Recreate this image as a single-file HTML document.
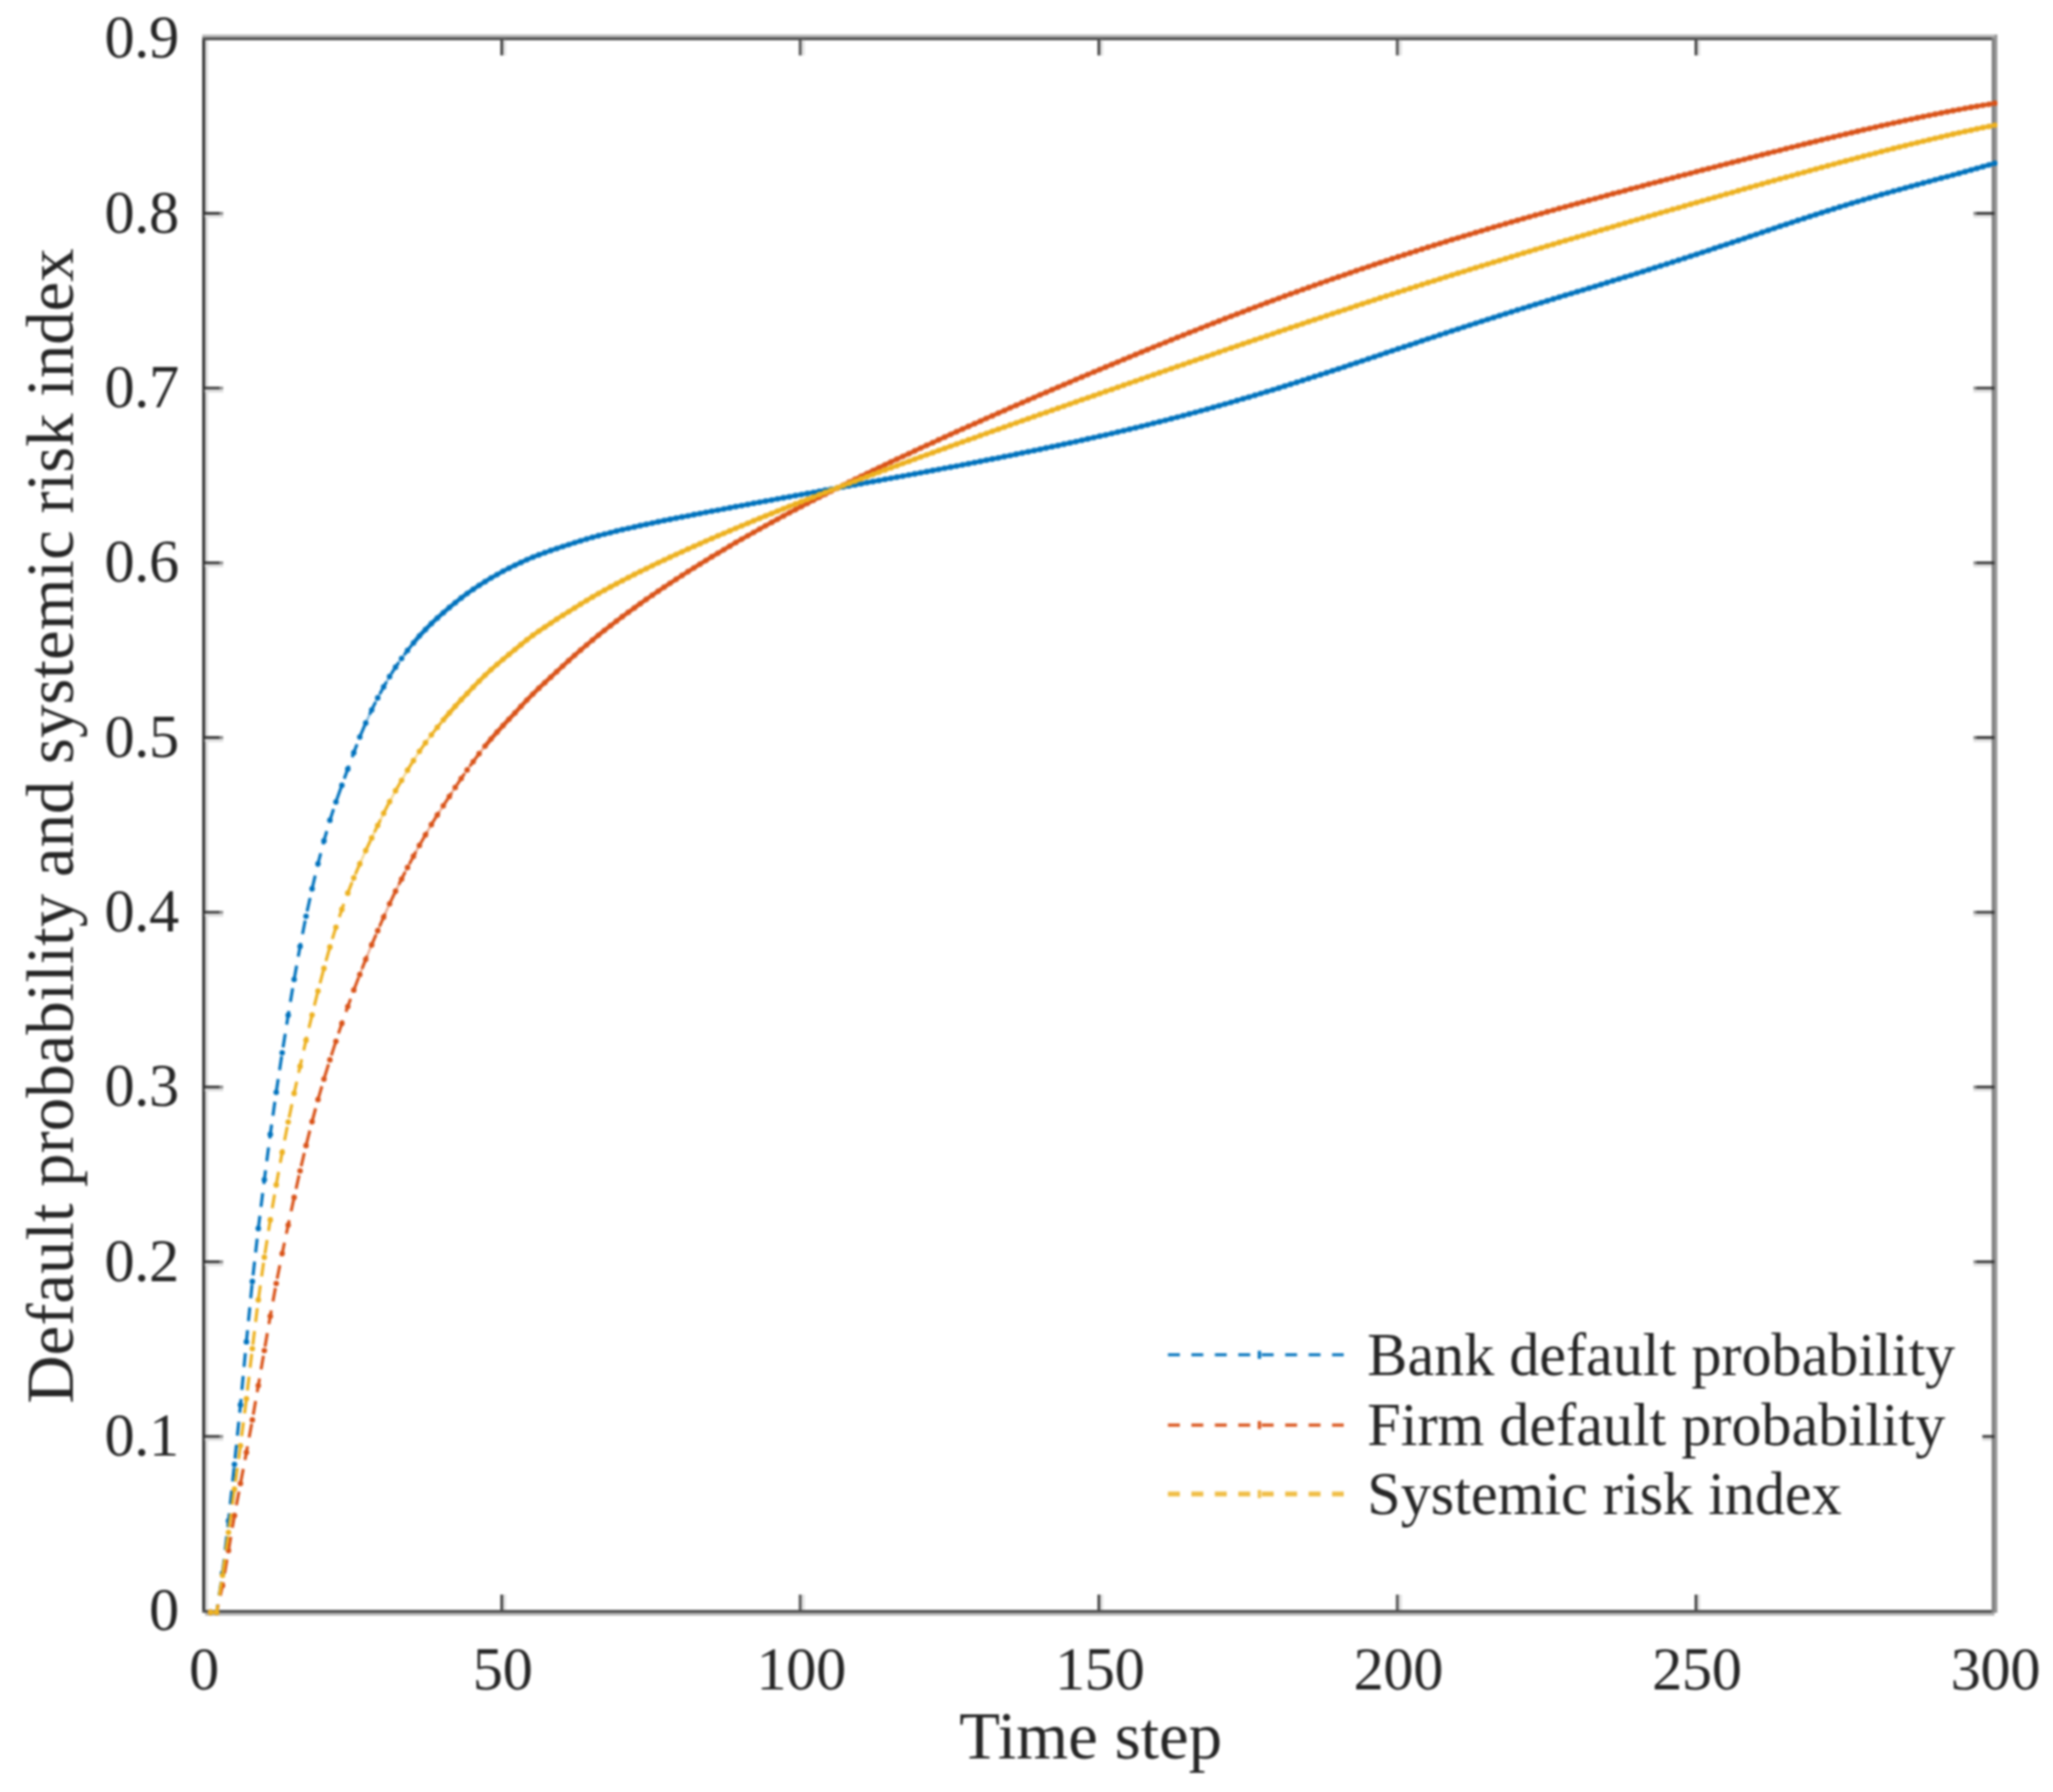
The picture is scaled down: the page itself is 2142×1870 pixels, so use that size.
<!DOCTYPE html>
<html lang="en">
<head>
<meta charset="utf-8">
<title>Default probability and systemic risk index</title>
<style>
html,body{margin:0;padding:0;background:#fff;}
body{width:2142px;height:1870px;overflow:hidden;}
svg{display:block;filter:blur(0.9px);}
text{font-family:"Liberation Serif","Times New Roman",Times,serif;fill:#262626;stroke:none;}
.tk{font-size:63px;letter-spacing:-0.4px;}
.lb{font-size:69.7px;}
.lg{font-size:62.75px;}
</style>
</head>
<body>
<svg width="2142" height="1870" viewBox="0 0 2142 1870">
<rect x="0" y="0" width="2142" height="1870" fill="#ffffff"/>

<g id="axes" shape-rendering="crispEdges">
<rect x="210.5" y="38.7" width="3.1" height="1644.1" fill="#333333"/>
<rect x="213.6" y="41.8" width="3.2" height="1638.2" fill="#dadada"/>
<rect x="210.5" y="35.6" width="1873.4" height="3.1" fill="#b9b9b9"/>
<rect x="210.5" y="38.7" width="1870.5" height="3.1" fill="#4f4f4f"/>
<rect x="210.5" y="1680" width="1870.5" height="2.9" fill="#4f4f4f"/>
<rect x="213.6" y="1682.9" width="1867.4" height="2.9" fill="#b6b6b6"/>
<rect x="2078" y="38.7" width="3" height="1644.2" fill="#808080"/>
<rect x="2081" y="35.6" width="2.9" height="1647.3" fill="#999999"/>
</g>
<g id="ticks">
<rect x="213.6" y="1497.6" width="16" height="2.9" fill="#333333"/>
<rect x="229.6" y="1497.6" width="3.2" height="2.9" fill="#808080"/>
<rect x="213.6" y="1500.5" width="19.2" height="3" fill="#dcdcdc"/>
<rect x="2062" y="1497.6" width="19" height="2.9" fill="#333333"/>
<rect x="2059" y="1497.6" width="3" height="2.9" fill="#808080"/>
<rect x="2059" y="1500.5" width="19" height="3" fill="#dcdcdc"/>
<rect x="213.6" y="1315.3" width="16" height="2.9" fill="#333333"/>
<rect x="229.6" y="1315.3" width="3.2" height="2.9" fill="#808080"/>
<rect x="213.6" y="1318.2" width="19.2" height="3" fill="#dcdcdc"/>
<rect x="2062" y="1315.3" width="19" height="2.9" fill="#333333"/>
<rect x="2059" y="1315.3" width="3" height="2.9" fill="#808080"/>
<rect x="2059" y="1318.2" width="19" height="3" fill="#dcdcdc"/>
<rect x="213.6" y="1132.9" width="16" height="2.9" fill="#333333"/>
<rect x="229.6" y="1132.9" width="3.2" height="2.9" fill="#808080"/>
<rect x="213.6" y="1135.8" width="19.2" height="3" fill="#dcdcdc"/>
<rect x="2062" y="1132.9" width="19" height="2.9" fill="#333333"/>
<rect x="2059" y="1132.9" width="3" height="2.9" fill="#808080"/>
<rect x="2059" y="1135.8" width="19" height="3" fill="#dcdcdc"/>
<rect x="213.6" y="950.6" width="16" height="2.9" fill="#333333"/>
<rect x="229.6" y="950.6" width="3.2" height="2.9" fill="#808080"/>
<rect x="213.6" y="953.5" width="19.2" height="3" fill="#dcdcdc"/>
<rect x="2062" y="950.6" width="19" height="2.9" fill="#333333"/>
<rect x="2059" y="950.6" width="3" height="2.9" fill="#808080"/>
<rect x="2059" y="953.5" width="19" height="3" fill="#dcdcdc"/>
<rect x="213.6" y="768.2" width="16" height="2.9" fill="#333333"/>
<rect x="229.6" y="768.2" width="3.2" height="2.9" fill="#808080"/>
<rect x="213.6" y="771.2" width="19.2" height="3" fill="#dcdcdc"/>
<rect x="2062" y="768.2" width="19" height="2.9" fill="#333333"/>
<rect x="2059" y="768.2" width="3" height="2.9" fill="#808080"/>
<rect x="2059" y="771.2" width="19" height="3" fill="#dcdcdc"/>
<rect x="213.6" y="585.9" width="16" height="2.9" fill="#333333"/>
<rect x="229.6" y="585.9" width="3.2" height="2.9" fill="#808080"/>
<rect x="213.6" y="588.8" width="19.2" height="3" fill="#dcdcdc"/>
<rect x="2062" y="585.9" width="19" height="2.9" fill="#333333"/>
<rect x="2059" y="585.9" width="3" height="2.9" fill="#808080"/>
<rect x="2059" y="588.8" width="19" height="3" fill="#dcdcdc"/>
<rect x="213.6" y="403.6" width="16" height="2.9" fill="#333333"/>
<rect x="229.6" y="403.6" width="3.2" height="2.9" fill="#808080"/>
<rect x="213.6" y="406.5" width="19.2" height="3" fill="#dcdcdc"/>
<rect x="2062" y="403.6" width="19" height="2.9" fill="#333333"/>
<rect x="2059" y="403.6" width="3" height="2.9" fill="#808080"/>
<rect x="2059" y="406.5" width="19" height="3" fill="#dcdcdc"/>
<rect x="213.6" y="221.2" width="16" height="2.9" fill="#333333"/>
<rect x="229.6" y="221.2" width="3.2" height="2.9" fill="#808080"/>
<rect x="213.6" y="224.1" width="19.2" height="3" fill="#dcdcdc"/>
<rect x="2062" y="221.2" width="19" height="2.9" fill="#333333"/>
<rect x="2059" y="221.2" width="3" height="2.9" fill="#808080"/>
<rect x="2059" y="224.1" width="19" height="3" fill="#dcdcdc"/>
<rect x="522.0" y="1664" width="3" height="16" fill="#4a4a4a"/>
<rect x="525.0" y="1664" width="3" height="16" fill="#e0e0e0"/>
<rect x="522.0" y="41.8" width="3" height="16" fill="#4a4a4a"/>
<rect x="525.0" y="41.8" width="3" height="16" fill="#e0e0e0"/>
<rect x="833.5" y="1664" width="3" height="16" fill="#4a4a4a"/>
<rect x="836.5" y="1664" width="3" height="16" fill="#e0e0e0"/>
<rect x="833.5" y="41.8" width="3" height="16" fill="#4a4a4a"/>
<rect x="836.5" y="41.8" width="3" height="16" fill="#e0e0e0"/>
<rect x="1145.0" y="1664" width="3" height="16" fill="#4a4a4a"/>
<rect x="1148.0" y="1664" width="3" height="16" fill="#e0e0e0"/>
<rect x="1145.0" y="41.8" width="3" height="16" fill="#4a4a4a"/>
<rect x="1148.0" y="41.8" width="3" height="16" fill="#e0e0e0"/>
<rect x="1456.5" y="1664" width="3" height="16" fill="#4a4a4a"/>
<rect x="1459.5" y="1664" width="3" height="16" fill="#e0e0e0"/>
<rect x="1456.5" y="41.8" width="3" height="16" fill="#4a4a4a"/>
<rect x="1459.5" y="41.8" width="3" height="16" fill="#e0e0e0"/>
<rect x="1768.0" y="1664" width="3" height="16" fill="#4a4a4a"/>
<rect x="1771.0" y="1664" width="3" height="16" fill="#e0e0e0"/>
<rect x="1768.0" y="41.8" width="3" height="16" fill="#4a4a4a"/>
<rect x="1771.0" y="41.8" width="3" height="16" fill="#e0e0e0"/>
</g>
<g id="curves">
<path d="M219.7 1682.5 L226.0 1682.5 L232.2 1641.7 L238.4 1586.9 L244.6 1528.1 L250.9 1465.9 L257.1 1400.2 L263.3 1337.2 L269.5 1282.0 L275.8 1231.1 L282.0 1183.7 L288.2 1139.8 L294.4 1098.6 L300.7 1059.3 L306.9 1022.1 L313.1 987.6 L319.3 956.1 L325.6 927.5 L331.8 901.3 L338.0 877.4 L344.2 855.9 L350.5 836.8 L356.7 819.4 L362.9 802.4 L369.1 785.4 L375.4 769.1 L381.6 754.4 L387.8 740.8 L394.1 728.2 L400.3 716.7 L406.5 706.0 L412.7 696.2 L419.0 687.1 L425.2 678.7 L431.4 670.9" fill="none" stroke="#0072bd" stroke-width="3.2" stroke-dasharray="14.5 9.5" stroke-linejoin="round"/>
<path d="M219.7 1682.5h0M226.0 1682.5h0M232.2 1641.7h0M238.4 1586.9h0M244.6 1528.1h0M250.9 1465.9h0M257.1 1400.2h0M263.3 1337.2h0M269.5 1282.0h0M275.8 1231.1h0M282.0 1183.7h0M288.2 1139.8h0M294.4 1098.6h0M300.7 1059.3h0M306.9 1022.1h0M313.1 987.6h0M319.3 956.1h0M325.6 927.5h0M331.8 901.3h0M338.0 877.4h0M344.2 855.9h0M350.5 836.8h0M356.7 819.4h0M362.9 802.4h0M369.1 785.4h0M375.4 769.1h0M381.6 754.4h0M387.8 740.8h0M394.1 728.2h0M400.3 716.7h0M406.5 706.0h0M412.7 696.2h0M419.0 687.1h0M425.2 678.7h0M431.4 670.9h0M437.6 663.6h0M443.9 656.9h0M450.1 650.7h0M456.3 644.9h0M462.5 639.4h0M468.8 634.0h0M475.0 628.9h0M481.2 624.0h0M487.4 619.3h0M493.7 615.0h0M499.9 610.8h0M506.1 606.9h0M512.3 603.1h0M518.6 599.6h0M524.8 596.1h0M531.0 592.9h0M537.3 589.8h0M543.5 586.9h0M549.7 584.1h0M555.9 581.4h0M562.2 579.0h0M568.4 576.7h0M574.6 574.5h0M580.8 572.4h0M587.1 570.3h0M593.3 568.3h0M599.5 566.3h0M605.7 564.4h0M612.0 562.5h0M618.2 560.7h0M624.4 559.0h0M630.6 557.3h0M636.9 555.8h0M643.1 554.2h0M649.3 552.7h0M655.5 551.3h0M661.8 549.9h0M668.0 548.5h0M674.2 547.2h0M680.5 545.8h0M686.7 544.5h0M692.9 543.2h0M699.1 542.0h0M705.4 540.7h0M711.6 539.5h0M717.8 538.3h0M724.0 537.0h0M730.3 535.8h0M736.5 534.6h0M742.7 533.4h0M748.9 532.3h0M755.2 531.1h0M761.4 529.9h0M767.6 528.7h0M773.8 527.6h0M780.1 526.4h0M786.3 525.2h0M792.5 524.1h0M798.7 522.9h0M805.0 521.8h0M811.2 520.6h0M817.4 519.5h0M823.6 518.4h0M829.9 517.2h0M836.1 516.1h0M842.3 514.9h0M848.6 513.8h0M854.8 512.7h0M861.0 511.5h0M867.2 510.4h0M873.5 509.3h0M879.7 508.2h0M885.9 507.0h0M892.1 505.9h0M898.4 504.8h0M904.6 503.6h0M910.8 502.5h0M917.0 501.4h0M923.3 500.2h0M929.5 499.1h0M935.7 497.9h0M941.9 496.8h0M948.2 495.6h0M954.4 494.5h0M960.6 493.3h0M966.8 492.2h0M973.1 491.0h0M979.3 489.8h0M985.5 488.6h0M991.8 487.5h0M998.0 486.3h0M1004.2 485.1h0M1010.4 483.9h0M1016.7 482.7h0M1022.9 481.5h0M1029.1 480.2h0M1035.3 479.0h0M1041.6 477.8h0M1047.8 476.5h0M1054.0 475.3h0M1060.2 474.0h0M1066.5 472.7h0M1072.7 471.4h0M1078.9 470.2h0M1085.1 468.9h0M1091.4 467.5h0M1097.6 466.2h0M1103.8 464.9h0M1110.0 463.5h0M1116.3 462.2h0M1122.5 460.8h0M1128.7 459.4h0M1134.9 458.0h0M1141.2 456.6h0M1147.4 455.2h0M1153.6 453.8h0M1159.9 452.3h0M1166.1 450.8h0M1172.3 449.4h0M1178.5 447.9h0M1184.8 446.4h0M1191.0 444.8h0M1197.2 443.3h0M1203.4 441.7h0M1209.7 440.2h0M1215.9 438.6h0M1222.1 436.9h0M1228.3 435.3h0M1234.6 433.7h0M1240.8 432.0h0M1247.0 430.3h0M1253.2 428.6h0M1259.5 426.9h0M1265.7 425.2h0M1271.9 423.4h0M1278.1 421.6h0M1284.4 419.8h0M1290.6 418.0h0M1296.8 416.2h0M1303.0 414.4h0M1309.3 412.5h0M1315.5 410.6h0M1321.7 408.7h0M1328.0 406.8h0M1334.2 404.9h0M1340.4 402.9h0M1346.6 401.0h0M1352.9 399.0h0M1359.1 397.0h0M1365.3 395.0h0M1371.5 393.0h0M1377.8 391.0h0M1384.0 389.0h0M1390.2 386.9h0M1396.4 384.9h0M1402.7 382.8h0M1408.9 380.7h0M1415.1 378.7h0M1421.3 376.6h0M1427.6 374.5h0M1433.8 372.4h0M1440.0 370.3h0M1446.2 368.2h0M1452.5 366.1h0M1458.7 364.0h0M1464.9 362.0h0M1471.2 359.9h0M1477.4 357.8h0M1483.6 355.7h0M1489.8 353.6h0M1496.1 351.6h0M1502.3 349.5h0M1508.5 347.5h0M1514.7 345.4h0M1521.0 343.4h0M1527.2 341.3h0M1533.4 339.3h0M1539.6 337.3h0M1545.9 335.3h0M1552.1 333.3h0M1558.3 331.4h0M1564.5 329.4h0M1570.8 327.4h0M1577.0 325.5h0M1583.2 323.5h0M1589.4 321.6h0M1595.7 319.7h0M1601.9 317.7h0M1608.1 315.8h0M1614.3 313.9h0M1620.6 312.0h0M1626.8 310.1h0M1633.0 308.2h0M1639.3 306.3h0M1645.5 304.4h0M1651.7 302.6h0M1657.9 300.7h0M1664.2 298.8h0M1670.4 296.9h0M1676.6 295.0h0M1682.8 293.0h0M1689.1 291.1h0M1695.3 289.2h0M1701.5 287.3h0M1707.7 285.3h0M1714.0 283.4h0M1720.2 281.4h0M1726.4 279.4h0M1732.6 277.5h0M1738.9 275.5h0M1745.1 273.5h0M1751.3 271.5h0M1757.5 269.5h0M1763.8 267.4h0M1770.0 265.4h0M1776.2 263.3h0M1782.5 261.3h0M1788.7 259.2h0M1794.9 257.1h0M1801.1 255.1h0M1807.4 253.0h0M1813.6 250.9h0M1819.8 248.8h0M1826.0 246.7h0M1832.3 244.6h0M1838.5 242.5h0M1844.7 240.4h0M1850.9 238.3h0M1857.2 236.2h0M1863.4 234.2h0M1869.6 232.1h0M1875.8 230.0h0M1882.1 228.0h0M1888.3 225.9h0M1894.5 223.9h0M1900.7 221.9h0M1907.0 219.9h0M1913.2 218.0h0M1919.4 216.0h0M1925.7 214.1h0M1931.9 212.2h0M1938.1 210.3h0M1944.3 208.5h0M1950.6 206.6h0M1956.8 204.8h0M1963.0 203.0h0M1969.2 201.3h0M1975.5 199.5h0M1981.7 197.8h0M1987.9 196.1h0M1994.1 194.4h0M2000.4 192.7h0M2006.6 191.0h0M2012.8 189.3h0M2019.0 187.6h0M2025.3 185.9h0M2031.5 184.3h0M2037.7 182.6h0M2043.9 180.9h0M2050.2 179.2h0M2056.4 177.4h0M2062.6 175.7h0M2068.8 173.9h0M2075.1 172.1h0M2081.3 170.3h0" fill="none" stroke="#0072bd" stroke-width="5.8" stroke-linecap="round"/>
<path d="M375.4 769.1 L381.6 754.4 L387.8 740.8 L394.1 728.2 L400.3 716.7 L406.5 706.0 L412.7 696.2 L419.0 687.1 L425.2 678.7 L431.4 670.9" fill="none" stroke="#0072bd" stroke-width="2.4" stroke-opacity="0.5" stroke-linejoin="round" stroke-linecap="round"/>
<path d="M431.4 670.9 L437.6 663.6 L443.9 656.9 L450.1 650.7 L456.3 644.9 L462.5 639.4 L468.8 634.0 L475.0 628.9 L481.2 624.0 L487.4 619.3 L493.7 615.0 L499.9 610.8 L506.1 606.9 L512.3 603.1 L518.6 599.6 L524.8 596.1 L531.0 592.9 L537.3 589.8 L543.5 586.9 L549.7 584.1 L555.9 581.4 L562.2 579.0 L568.4 576.7 L574.6 574.5 L580.8 572.4 L587.1 570.3 L593.3 568.3 L599.5 566.3 L605.7 564.4 L612.0 562.5 L618.2 560.7 L624.4 559.0 L630.6 557.3 L636.9 555.8 L643.1 554.2 L649.3 552.7 L655.5 551.3 L661.8 549.9 L668.0 548.5 L674.2 547.2 L680.5 545.8 L686.7 544.5 L692.9 543.2 L699.1 542.0 L705.4 540.7 L711.6 539.5 L717.8 538.3 L724.0 537.0 L730.3 535.8 L736.5 534.6 L742.7 533.4 L748.9 532.3 L755.2 531.1 L761.4 529.9 L767.6 528.7 L773.8 527.6 L780.1 526.4 L786.3 525.2 L792.5 524.1 L798.7 522.9 L805.0 521.8 L811.2 520.6 L817.4 519.5 L823.6 518.4 L829.9 517.2 L836.1 516.1 L842.3 514.9 L848.6 513.8 L854.8 512.7 L861.0 511.5 L867.2 510.4 L873.5 509.3 L879.7 508.2 L885.9 507.0 L892.1 505.9 L898.4 504.8 L904.6 503.6 L910.8 502.5 L917.0 501.4 L923.3 500.2 L929.5 499.1 L935.7 497.9 L941.9 496.8 L948.2 495.6 L954.4 494.5 L960.6 493.3 L966.8 492.2 L973.1 491.0 L979.3 489.8 L985.5 488.6 L991.8 487.5 L998.0 486.3 L1004.2 485.1 L1010.4 483.9 L1016.7 482.7 L1022.9 481.5 L1029.1 480.2 L1035.3 479.0 L1041.6 477.8 L1047.8 476.5 L1054.0 475.3 L1060.2 474.0 L1066.5 472.7 L1072.7 471.4 L1078.9 470.2 L1085.1 468.9 L1091.4 467.5 L1097.6 466.2 L1103.8 464.9 L1110.0 463.5 L1116.3 462.2 L1122.5 460.8 L1128.7 459.4 L1134.9 458.0 L1141.2 456.6 L1147.4 455.2 L1153.6 453.8 L1159.9 452.3 L1166.1 450.8 L1172.3 449.4 L1178.5 447.9 L1184.8 446.4 L1191.0 444.8 L1197.2 443.3 L1203.4 441.7 L1209.7 440.2 L1215.9 438.6 L1222.1 436.9 L1228.3 435.3 L1234.6 433.7 L1240.8 432.0 L1247.0 430.3 L1253.2 428.6 L1259.5 426.9 L1265.7 425.2 L1271.9 423.4 L1278.1 421.6 L1284.4 419.8 L1290.6 418.0 L1296.8 416.2 L1303.0 414.4 L1309.3 412.5 L1315.5 410.6 L1321.7 408.7 L1328.0 406.8 L1334.2 404.9 L1340.4 402.9 L1346.6 401.0 L1352.9 399.0 L1359.1 397.0 L1365.3 395.0 L1371.5 393.0 L1377.8 391.0 L1384.0 389.0 L1390.2 386.9 L1396.4 384.9 L1402.7 382.8 L1408.9 380.7 L1415.1 378.7 L1421.3 376.6 L1427.6 374.5 L1433.8 372.4 L1440.0 370.3 L1446.2 368.2 L1452.5 366.1 L1458.7 364.0 L1464.9 362.0 L1471.2 359.9 L1477.4 357.8 L1483.6 355.7 L1489.8 353.6 L1496.1 351.6 L1502.3 349.5 L1508.5 347.5 L1514.7 345.4 L1521.0 343.4 L1527.2 341.3 L1533.4 339.3 L1539.6 337.3 L1545.9 335.3 L1552.1 333.3 L1558.3 331.4 L1564.5 329.4 L1570.8 327.4 L1577.0 325.5 L1583.2 323.5 L1589.4 321.6 L1595.7 319.7 L1601.9 317.7 L1608.1 315.8 L1614.3 313.9 L1620.6 312.0 L1626.8 310.1 L1633.0 308.2 L1639.3 306.3 L1645.5 304.4 L1651.7 302.6 L1657.9 300.7 L1664.2 298.8 L1670.4 296.9 L1676.6 295.0 L1682.8 293.0 L1689.1 291.1 L1695.3 289.2 L1701.5 287.3 L1707.7 285.3 L1714.0 283.4 L1720.2 281.4 L1726.4 279.4 L1732.6 277.5 L1738.9 275.5 L1745.1 273.5 L1751.3 271.5 L1757.5 269.5 L1763.8 267.4 L1770.0 265.4 L1776.2 263.3 L1782.5 261.3 L1788.7 259.2 L1794.9 257.1 L1801.1 255.1 L1807.4 253.0 L1813.6 250.9 L1819.8 248.8 L1826.0 246.7 L1832.3 244.6 L1838.5 242.5 L1844.7 240.4 L1850.9 238.3 L1857.2 236.2 L1863.4 234.2 L1869.6 232.1 L1875.8 230.0 L1882.1 228.0 L1888.3 225.9 L1894.5 223.9 L1900.7 221.9 L1907.0 219.9 L1913.2 218.0 L1919.4 216.0 L1925.7 214.1 L1931.9 212.2 L1938.1 210.3 L1944.3 208.5 L1950.6 206.6 L1956.8 204.8 L1963.0 203.0 L1969.2 201.3 L1975.5 199.5 L1981.7 197.8 L1987.9 196.1 L1994.1 194.4 L2000.4 192.7 L2006.6 191.0 L2012.8 189.3 L2019.0 187.6 L2025.3 185.9 L2031.5 184.3 L2037.7 182.6 L2043.9 180.9 L2050.2 179.2 L2056.4 177.4 L2062.6 175.7 L2068.8 173.9 L2075.1 172.1 L2081.3 170.3" fill="none" stroke="#0072bd" stroke-width="4.4" stroke-linejoin="round" stroke-linecap="round"/>
<path d="M219.7 1682.5 L226.0 1682.5 L232.2 1654.6 L238.4 1618.1 L244.6 1581.5 L250.9 1548.1 L257.1 1515.6 L263.3 1481.7 L269.5 1445.8 L275.8 1409.3 L282.0 1373.4 L288.2 1339.3 L294.4 1308.1 L300.7 1278.3 L306.9 1249.5 L313.1 1221.8 L319.3 1195.4 L325.6 1170.5 L331.8 1147.4 L338.0 1126.1 L344.2 1105.9 L350.5 1086.6 L356.7 1068.0 L362.9 1050.3 L369.1 1033.2 L375.4 1016.9 L381.6 1001.1 L387.8 985.9 L394.1 971.2 L400.3 956.9 L406.5 943.1 L412.7 929.9 L419.0 917.3 L425.2 905.2 L431.4 893.5 L437.6 882.2 L443.9 871.2 L450.1 860.5 L456.3 850.4 L462.5 840.8 L468.8 831.2 L475.0 821.7 L481.2 812.3 L487.4 803.4 L493.7 794.8 L499.9 786.5 L506.1 778.6" fill="none" stroke="#d95319" stroke-width="3.2" stroke-dasharray="14.5 9.5" stroke-linejoin="round"/>
<path d="M219.7 1682.5h0M226.0 1682.5h0M232.2 1654.6h0M238.4 1618.1h0M244.6 1581.5h0M250.9 1548.1h0M257.1 1515.6h0M263.3 1481.7h0M269.5 1445.8h0M275.8 1409.3h0M282.0 1373.4h0M288.2 1339.3h0M294.4 1308.1h0M300.7 1278.3h0M306.9 1249.5h0M313.1 1221.8h0M319.3 1195.4h0M325.6 1170.5h0M331.8 1147.4h0M338.0 1126.1h0M344.2 1105.9h0M350.5 1086.6h0M356.7 1068.0h0M362.9 1050.3h0M369.1 1033.2h0M375.4 1016.9h0M381.6 1001.1h0M387.8 985.9h0M394.1 971.2h0M400.3 956.9h0M406.5 943.1h0M412.7 929.9h0M419.0 917.3h0M425.2 905.2h0M431.4 893.5h0M437.6 882.2h0M443.9 871.2h0M450.1 860.5h0M456.3 850.4h0M462.5 840.8h0M468.8 831.2h0M475.0 821.7h0M481.2 812.3h0M487.4 803.4h0M493.7 794.8h0M499.9 786.5h0M506.1 778.6h0M512.3 771.1h0M518.6 764.0h0M524.8 757.2h0M531.0 750.6h0M537.3 743.9h0M543.5 737.2h0M549.7 730.6h0M555.9 724.3h0M562.2 718.2h0M568.4 712.4h0M574.6 706.7h0M580.8 700.9h0M587.1 695.1h0M593.3 689.4h0M599.5 683.8h0M605.7 678.4h0M612.0 673.1h0M618.2 667.9h0M624.4 662.8h0M630.6 657.8h0M636.9 653.0h0M643.1 648.2h0M649.3 643.5h0M655.5 638.9h0M661.8 634.4h0M668.0 629.9h0M674.2 625.5h0M680.5 621.2h0M686.7 616.9h0M692.9 612.7h0M699.1 608.6h0M705.4 604.5h0M711.6 600.5h0M717.8 596.5h0M724.0 592.6h0M730.3 588.7h0M736.5 584.8h0M742.7 581.0h0M748.9 577.3h0M755.2 573.6h0M761.4 569.9h0M767.6 566.2h0M773.8 562.6h0M780.1 559.1h0M786.3 555.6h0M792.5 552.1h0M798.7 548.6h0M805.0 545.2h0M811.2 541.8h0M817.4 538.4h0M823.6 535.1h0M829.9 531.8h0M836.1 528.5h0M842.3 525.3h0M848.6 522.0h0M854.8 518.8h0M861.0 515.7h0M867.2 512.5h0M873.5 509.4h0M879.7 506.3h0M885.9 503.2h0M892.1 500.1h0M898.4 497.1h0M904.6 494.1h0M910.8 491.1h0M917.0 488.1h0M923.3 485.1h0M929.5 482.1h0M935.7 479.2h0M941.9 476.3h0M948.2 473.4h0M954.4 470.5h0M960.6 467.6h0M966.8 464.7h0M973.1 461.9h0M979.3 459.0h0M985.5 456.2h0M991.8 453.3h0M998.0 450.5h0M1004.2 447.7h0M1010.4 444.9h0M1016.7 442.2h0M1022.9 439.4h0M1029.1 436.6h0M1035.3 433.9h0M1041.6 431.1h0M1047.8 428.4h0M1054.0 425.6h0M1060.2 422.9h0M1066.5 420.2h0M1072.7 417.5h0M1078.9 414.8h0M1085.1 412.1h0M1091.4 409.4h0M1097.6 406.7h0M1103.8 404.1h0M1110.0 401.4h0M1116.3 398.8h0M1122.5 396.1h0M1128.7 393.5h0M1134.9 390.8h0M1141.2 388.2h0M1147.4 385.6h0M1153.6 383.0h0M1159.9 380.4h0M1166.1 377.8h0M1172.3 375.2h0M1178.5 372.6h0M1184.8 370.0h0M1191.0 367.4h0M1197.2 364.9h0M1203.4 362.3h0M1209.7 359.8h0M1215.9 357.3h0M1222.1 354.7h0M1228.3 352.2h0M1234.6 349.7h0M1240.8 347.2h0M1247.0 344.8h0M1253.2 342.3h0M1259.5 339.8h0M1265.7 337.4h0M1271.9 335.0h0M1278.1 332.5h0M1284.4 330.1h0M1290.6 327.7h0M1296.8 325.4h0M1303.0 323.0h0M1309.3 320.6h0M1315.5 318.3h0M1321.7 315.9h0M1328.0 313.6h0M1334.2 311.3h0M1340.4 309.0h0M1346.6 306.7h0M1352.9 304.5h0M1359.1 302.2h0M1365.3 300.0h0M1371.5 297.7h0M1377.8 295.5h0M1384.0 293.3h0M1390.2 291.1h0M1396.4 289.0h0M1402.7 286.8h0M1408.9 284.7h0M1415.1 282.5h0M1421.3 280.4h0M1427.6 278.3h0M1433.8 276.2h0M1440.0 274.1h0M1446.2 272.1h0M1452.5 270.0h0M1458.7 268.0h0M1464.9 266.0h0M1471.2 264.0h0M1477.4 262.0h0M1483.6 260.0h0M1489.8 258.0h0M1496.1 256.0h0M1502.3 254.1h0M1508.5 252.2h0M1514.7 250.2h0M1521.0 248.3h0M1527.2 246.4h0M1533.4 244.6h0M1539.6 242.7h0M1545.9 240.8h0M1552.1 239.0h0M1558.3 237.1h0M1564.5 235.3h0M1570.8 233.5h0M1577.0 231.7h0M1583.2 229.9h0M1589.4 228.1h0M1595.7 226.3h0M1601.9 224.5h0M1608.1 222.8h0M1614.3 221.0h0M1620.6 219.3h0M1626.8 217.5h0M1633.0 215.8h0M1639.3 214.1h0M1645.5 212.4h0M1651.7 210.7h0M1657.9 209.0h0M1664.2 207.3h0M1670.4 205.6h0M1676.6 203.9h0M1682.8 202.2h0M1689.1 200.6h0M1695.3 198.9h0M1701.5 197.2h0M1707.7 195.6h0M1714.0 193.9h0M1720.2 192.2h0M1726.4 190.6h0M1732.6 189.0h0M1738.9 187.3h0M1745.1 185.7h0M1751.3 184.0h0M1757.5 182.4h0M1763.8 180.8h0M1770.0 179.1h0M1776.2 177.5h0M1782.5 175.9h0M1788.7 174.3h0M1794.9 172.7h0M1801.1 171.1h0M1807.4 169.5h0M1813.6 167.9h0M1819.8 166.3h0M1826.0 164.7h0M1832.3 163.1h0M1838.5 161.5h0M1844.7 159.9h0M1850.9 158.3h0M1857.2 156.8h0M1863.4 155.2h0M1869.6 153.6h0M1875.8 152.1h0M1882.1 150.5h0M1888.3 149.0h0M1894.5 147.5h0M1900.7 145.9h0M1907.0 144.4h0M1913.2 142.9h0M1919.4 141.4h0M1925.7 139.9h0M1931.9 138.5h0M1938.1 137.0h0M1944.3 135.5h0M1950.6 134.1h0M1956.8 132.7h0M1963.0 131.2h0M1969.2 129.8h0M1975.5 128.4h0M1981.7 127.1h0M1987.9 125.7h0M1994.1 124.4h0M2000.4 123.0h0M2006.6 121.7h0M2012.8 120.4h0M2019.0 119.2h0M2025.3 117.9h0M2031.5 116.7h0M2037.7 115.5h0M2043.9 114.3h0M2050.2 113.1h0M2056.4 112.0h0M2062.6 110.9h0M2068.8 109.8h0M2075.1 108.8h0M2081.3 107.7h0" fill="none" stroke="#d95319" stroke-width="5.8" stroke-linecap="round"/>
<path d="M375.4 1016.9 L381.6 1001.1 L387.8 985.9 L394.1 971.2 L400.3 956.9 L406.5 943.1 L412.7 929.9 L419.0 917.3 L425.2 905.2 L431.4 893.5 L437.6 882.2 L443.9 871.2 L450.1 860.5 L456.3 850.4 L462.5 840.8 L468.8 831.2 L475.0 821.7 L481.2 812.3 L487.4 803.4 L493.7 794.8 L499.9 786.5 L506.1 778.6" fill="none" stroke="#d95319" stroke-width="2.4" stroke-opacity="0.5" stroke-linejoin="round" stroke-linecap="round"/>
<path d="M506.1 778.6 L512.3 771.1 L518.6 764.0 L524.8 757.2 L531.0 750.6 L537.3 743.9 L543.5 737.2 L549.7 730.6 L555.9 724.3 L562.2 718.2 L568.4 712.4 L574.6 706.7 L580.8 700.9 L587.1 695.1 L593.3 689.4 L599.5 683.8 L605.7 678.4 L612.0 673.1 L618.2 667.9 L624.4 662.8 L630.6 657.8 L636.9 653.0 L643.1 648.2 L649.3 643.5 L655.5 638.9 L661.8 634.4 L668.0 629.9 L674.2 625.5 L680.5 621.2 L686.7 616.9 L692.9 612.7 L699.1 608.6 L705.4 604.5 L711.6 600.5 L717.8 596.5 L724.0 592.6 L730.3 588.7 L736.5 584.8 L742.7 581.0 L748.9 577.3 L755.2 573.6 L761.4 569.9 L767.6 566.2 L773.8 562.6 L780.1 559.1 L786.3 555.6 L792.5 552.1 L798.7 548.6 L805.0 545.2 L811.2 541.8 L817.4 538.4 L823.6 535.1 L829.9 531.8 L836.1 528.5 L842.3 525.3 L848.6 522.0 L854.8 518.8 L861.0 515.7 L867.2 512.5 L873.5 509.4 L879.7 506.3 L885.9 503.2 L892.1 500.1 L898.4 497.1 L904.6 494.1 L910.8 491.1 L917.0 488.1 L923.3 485.1 L929.5 482.1 L935.7 479.2 L941.9 476.3 L948.2 473.4 L954.4 470.5 L960.6 467.6 L966.8 464.7 L973.1 461.9 L979.3 459.0 L985.5 456.2 L991.8 453.3 L998.0 450.5 L1004.2 447.7 L1010.4 444.9 L1016.7 442.2 L1022.9 439.4 L1029.1 436.6 L1035.3 433.9 L1041.6 431.1 L1047.8 428.4 L1054.0 425.6 L1060.2 422.9 L1066.5 420.2 L1072.7 417.5 L1078.9 414.8 L1085.1 412.1 L1091.4 409.4 L1097.6 406.7 L1103.8 404.1 L1110.0 401.4 L1116.3 398.8 L1122.5 396.1 L1128.7 393.5 L1134.9 390.8 L1141.2 388.2 L1147.4 385.6 L1153.6 383.0 L1159.9 380.4 L1166.1 377.8 L1172.3 375.2 L1178.5 372.6 L1184.8 370.0 L1191.0 367.4 L1197.2 364.9 L1203.4 362.3 L1209.7 359.8 L1215.9 357.3 L1222.1 354.7 L1228.3 352.2 L1234.6 349.7 L1240.8 347.2 L1247.0 344.8 L1253.2 342.3 L1259.5 339.8 L1265.7 337.4 L1271.9 335.0 L1278.1 332.5 L1284.4 330.1 L1290.6 327.7 L1296.8 325.4 L1303.0 323.0 L1309.3 320.6 L1315.5 318.3 L1321.7 315.9 L1328.0 313.6 L1334.2 311.3 L1340.4 309.0 L1346.6 306.7 L1352.9 304.5 L1359.1 302.2 L1365.3 300.0 L1371.5 297.7 L1377.8 295.5 L1384.0 293.3 L1390.2 291.1 L1396.4 289.0 L1402.7 286.8 L1408.9 284.7 L1415.1 282.5 L1421.3 280.4 L1427.6 278.3 L1433.8 276.2 L1440.0 274.1 L1446.2 272.1 L1452.5 270.0 L1458.7 268.0 L1464.9 266.0 L1471.2 264.0 L1477.4 262.0 L1483.6 260.0 L1489.8 258.0 L1496.1 256.0 L1502.3 254.1 L1508.5 252.2 L1514.7 250.2 L1521.0 248.3 L1527.2 246.4 L1533.4 244.6 L1539.6 242.7 L1545.9 240.8 L1552.1 239.0 L1558.3 237.1 L1564.5 235.3 L1570.8 233.5 L1577.0 231.7 L1583.2 229.9 L1589.4 228.1 L1595.7 226.3 L1601.9 224.5 L1608.1 222.8 L1614.3 221.0 L1620.6 219.3 L1626.8 217.5 L1633.0 215.8 L1639.3 214.1 L1645.5 212.4 L1651.7 210.7 L1657.9 209.0 L1664.2 207.3 L1670.4 205.6 L1676.6 203.9 L1682.8 202.2 L1689.1 200.6 L1695.3 198.9 L1701.5 197.2 L1707.7 195.6 L1714.0 193.9 L1720.2 192.2 L1726.4 190.6 L1732.6 189.0 L1738.9 187.3 L1745.1 185.7 L1751.3 184.0 L1757.5 182.4 L1763.8 180.8 L1770.0 179.1 L1776.2 177.5 L1782.5 175.9 L1788.7 174.3 L1794.9 172.7 L1801.1 171.1 L1807.4 169.5 L1813.6 167.9 L1819.8 166.3 L1826.0 164.7 L1832.3 163.1 L1838.5 161.5 L1844.7 159.9 L1850.9 158.3 L1857.2 156.8 L1863.4 155.2 L1869.6 153.6 L1875.8 152.1 L1882.1 150.5 L1888.3 149.0 L1894.5 147.5 L1900.7 145.9 L1907.0 144.4 L1913.2 142.9 L1919.4 141.4 L1925.7 139.9 L1931.9 138.5 L1938.1 137.0 L1944.3 135.5 L1950.6 134.1 L1956.8 132.7 L1963.0 131.2 L1969.2 129.8 L1975.5 128.4 L1981.7 127.1 L1987.9 125.7 L1994.1 124.4 L2000.4 123.0 L2006.6 121.7 L2012.8 120.4 L2019.0 119.2 L2025.3 117.9 L2031.5 116.7 L2037.7 115.5 L2043.9 114.3 L2050.2 113.1 L2056.4 112.0 L2062.6 110.9 L2068.8 109.8 L2075.1 108.8 L2081.3 107.7" fill="none" stroke="#d95319" stroke-width="4.4" stroke-linejoin="round" stroke-linecap="round"/>
<path d="M219.7 1682.5 L226.0 1682.5 L232.2 1643.8 L238.4 1599.1 L244.6 1553.9 L250.9 1508.6 L257.1 1459.6 L263.3 1407.3 L269.5 1356.5 L275.8 1312.0 L282.0 1272.9 L288.2 1236.5 L294.4 1202.5 L300.7 1170.8 L306.9 1141.0 L313.1 1112.7 L319.3 1085.4 L325.6 1059.1 L331.8 1034.1 L338.0 1010.4 L344.2 988.2 L350.5 967.6 L356.7 948.9 L362.9 931.9 L369.1 916.1 L375.4 901.5 L381.6 887.6 L387.8 874.4 L394.1 861.3 L400.3 848.7 L406.5 836.6 L412.7 825.2 L419.0 814.3 L425.2 803.7 L431.4 793.7 L437.6 784.1 L443.9 775.2 L450.1 766.8 L456.3 758.9 L462.5 751.3" fill="none" stroke="#edb120" stroke-width="3.2" stroke-dasharray="14.5 9.5" stroke-linejoin="round"/>
<path d="M219.7 1682.5h0M226.0 1682.5h0M232.2 1643.8h0M238.4 1599.1h0M244.6 1553.9h0M250.9 1508.6h0M257.1 1459.6h0M263.3 1407.3h0M269.5 1356.5h0M275.8 1312.0h0M282.0 1272.9h0M288.2 1236.5h0M294.4 1202.5h0M300.7 1170.8h0M306.9 1141.0h0M313.1 1112.7h0M319.3 1085.4h0M325.6 1059.1h0M331.8 1034.1h0M338.0 1010.4h0M344.2 988.2h0M350.5 967.6h0M356.7 948.9h0M362.9 931.9h0M369.1 916.1h0M375.4 901.5h0M381.6 887.6h0M387.8 874.4h0M394.1 861.3h0M400.3 848.7h0M406.5 836.6h0M412.7 825.2h0M419.0 814.3h0M425.2 803.7h0M431.4 793.7h0M437.6 784.1h0M443.9 775.2h0M450.1 766.8h0M456.3 758.9h0M462.5 751.3h0M468.8 744.0h0M475.0 737.0h0M481.2 730.2h0M487.4 723.7h0M493.7 717.1h0M499.9 710.8h0M506.1 704.6h0M512.3 698.8h0M518.6 693.3h0M524.8 688.1h0M531.0 683.0h0M537.3 677.8h0M543.5 672.7h0M549.7 667.7h0M555.9 663.0h0M562.2 658.6h0M568.4 654.4h0M574.6 650.3h0M580.8 646.2h0M587.1 642.2h0M593.3 638.3h0M599.5 634.4h0M605.7 630.5h0M612.0 626.7h0M618.2 623.0h0M624.4 619.4h0M630.6 615.9h0M636.9 612.5h0M643.1 609.2h0M649.3 605.9h0M655.5 602.7h0M661.8 599.5h0M668.0 596.4h0M674.2 593.4h0M680.5 590.3h0M686.7 587.3h0M692.9 584.4h0M699.1 581.5h0M705.4 578.6h0M711.6 575.8h0M717.8 572.9h0M724.0 570.2h0M730.3 567.4h0M736.5 564.6h0M742.7 561.9h0M748.9 559.2h0M755.2 556.6h0M761.4 553.9h0M767.6 551.3h0M773.8 548.7h0M780.1 546.1h0M786.3 543.5h0M792.5 540.9h0M798.7 538.4h0M805.0 535.9h0M811.2 533.4h0M817.4 530.9h0M823.6 528.4h0M829.9 526.0h0M836.1 523.5h0M842.3 521.1h0M848.6 518.7h0M854.8 516.2h0M861.0 513.9h0M867.2 511.5h0M873.5 509.1h0M879.7 506.7h0M885.9 504.4h0M892.1 502.1h0M898.4 499.7h0M904.6 497.4h0M910.8 495.1h0M917.0 492.8h0M923.3 490.5h0M929.5 488.2h0M935.7 485.9h0M941.9 483.6h0M948.2 481.4h0M954.4 479.1h0M960.6 476.8h0M966.8 474.6h0M973.1 472.4h0M979.3 470.1h0M985.5 467.9h0M991.8 465.6h0M998.0 463.4h0M1004.2 461.2h0M1010.4 459.0h0M1016.7 456.8h0M1022.9 454.5h0M1029.1 452.3h0M1035.3 450.1h0M1041.6 447.9h0M1047.8 445.7h0M1054.0 443.5h0M1060.2 441.3h0M1066.5 439.1h0M1072.7 436.9h0M1078.9 434.7h0M1085.1 432.5h0M1091.4 430.4h0M1097.6 428.2h0M1103.8 426.0h0M1110.0 423.8h0M1116.3 421.6h0M1122.5 419.4h0M1128.7 417.2h0M1134.9 415.1h0M1141.2 412.9h0M1147.4 410.7h0M1153.6 408.5h0M1159.9 406.4h0M1166.1 404.2h0M1172.3 402.0h0M1178.5 399.8h0M1184.8 397.7h0M1191.0 395.5h0M1197.2 393.3h0M1203.4 391.2h0M1209.7 389.0h0M1215.9 386.8h0M1222.1 384.7h0M1228.3 382.5h0M1234.6 380.4h0M1240.8 378.2h0M1247.0 376.1h0M1253.2 373.9h0M1259.5 371.8h0M1265.7 369.6h0M1271.9 367.5h0M1278.1 365.3h0M1284.4 363.2h0M1290.6 361.1h0M1296.8 358.9h0M1303.0 356.8h0M1309.3 354.7h0M1315.5 352.6h0M1321.7 350.5h0M1328.0 348.3h0M1334.2 346.2h0M1340.4 344.1h0M1346.6 342.0h0M1352.9 339.9h0M1359.1 337.8h0M1365.3 335.7h0M1371.5 333.7h0M1377.8 331.6h0M1384.0 329.5h0M1390.2 327.4h0M1396.4 325.4h0M1402.7 323.3h0M1408.9 321.3h0M1415.1 319.2h0M1421.3 317.2h0M1427.6 315.1h0M1433.8 313.1h0M1440.0 311.0h0M1446.2 309.0h0M1452.5 307.0h0M1458.7 305.0h0M1464.9 303.0h0M1471.2 301.0h0M1477.4 299.0h0M1483.6 297.0h0M1489.8 295.0h0M1496.1 293.1h0M1502.3 291.1h0M1508.5 289.1h0M1514.7 287.2h0M1521.0 285.2h0M1527.2 283.3h0M1533.4 281.3h0M1539.6 279.4h0M1545.9 277.5h0M1552.1 275.6h0M1558.3 273.7h0M1564.5 271.8h0M1570.8 269.9h0M1577.0 268.0h0M1583.2 266.1h0M1589.4 264.2h0M1595.7 262.3h0M1601.9 260.4h0M1608.1 258.6h0M1614.3 256.7h0M1620.6 254.9h0M1626.8 253.0h0M1633.0 251.2h0M1639.3 249.3h0M1645.5 247.5h0M1651.7 245.7h0M1657.9 243.8h0M1664.2 242.0h0M1670.4 240.2h0M1676.6 238.4h0M1682.8 236.6h0M1689.1 234.7h0M1695.3 232.9h0M1701.5 231.1h0M1707.7 229.3h0M1714.0 227.5h0M1720.2 225.7h0M1726.4 223.9h0M1732.6 222.1h0M1738.9 220.3h0M1745.1 218.5h0M1751.3 216.8h0M1757.5 215.0h0M1763.8 213.2h0M1770.0 211.4h0M1776.2 209.6h0M1782.5 207.8h0M1788.7 206.1h0M1794.9 204.3h0M1801.1 202.5h0M1807.4 200.8h0M1813.6 199.0h0M1819.8 197.2h0M1826.0 195.5h0M1832.3 193.7h0M1838.5 192.0h0M1844.7 190.2h0M1850.9 188.5h0M1857.2 186.7h0M1863.4 185.0h0M1869.6 183.3h0M1875.8 181.5h0M1882.1 179.8h0M1888.3 178.1h0M1894.5 176.4h0M1900.7 174.7h0M1907.0 173.0h0M1913.2 171.3h0M1919.4 169.6h0M1925.7 168.0h0M1931.9 166.3h0M1938.1 164.7h0M1944.3 163.0h0M1950.6 161.4h0M1956.8 159.8h0M1963.0 158.2h0M1969.2 156.6h0M1975.5 155.0h0M1981.7 153.4h0M1987.9 151.9h0M1994.1 150.3h0M2000.4 148.8h0M2006.6 147.3h0M2012.8 145.8h0M2019.0 144.3h0M2025.3 142.9h0M2031.5 141.4h0M2037.7 140.0h0M2043.9 138.6h0M2050.2 137.2h0M2056.4 135.9h0M2062.6 134.5h0M2068.8 133.2h0M2075.1 131.9h0M2081.3 130.6h0" fill="none" stroke="#edb120" stroke-width="5.8" stroke-linecap="round"/>
<path d="M362.9 931.9 L369.1 916.1 L375.4 901.5 L381.6 887.6 L387.8 874.4 L394.1 861.3 L400.3 848.7 L406.5 836.6 L412.7 825.2 L419.0 814.3 L425.2 803.7 L431.4 793.7 L437.6 784.1 L443.9 775.2 L450.1 766.8 L456.3 758.9 L462.5 751.3" fill="none" stroke="#edb120" stroke-width="2.4" stroke-opacity="0.5" stroke-linejoin="round" stroke-linecap="round"/>
<path d="M462.5 751.3 L468.8 744.0 L475.0 737.0 L481.2 730.2 L487.4 723.7 L493.7 717.1 L499.9 710.8 L506.1 704.6 L512.3 698.8 L518.6 693.3 L524.8 688.1 L531.0 683.0 L537.3 677.8 L543.5 672.7 L549.7 667.7 L555.9 663.0 L562.2 658.6 L568.4 654.4 L574.6 650.3 L580.8 646.2 L587.1 642.2 L593.3 638.3 L599.5 634.4 L605.7 630.5 L612.0 626.7 L618.2 623.0 L624.4 619.4 L630.6 615.9 L636.9 612.5 L643.1 609.2 L649.3 605.9 L655.5 602.7 L661.8 599.5 L668.0 596.4 L674.2 593.4 L680.5 590.3 L686.7 587.3 L692.9 584.4 L699.1 581.5 L705.4 578.6 L711.6 575.8 L717.8 572.9 L724.0 570.2 L730.3 567.4 L736.5 564.6 L742.7 561.9 L748.9 559.2 L755.2 556.6 L761.4 553.9 L767.6 551.3 L773.8 548.7 L780.1 546.1 L786.3 543.5 L792.5 540.9 L798.7 538.4 L805.0 535.9 L811.2 533.4 L817.4 530.9 L823.6 528.4 L829.9 526.0 L836.1 523.5 L842.3 521.1 L848.6 518.7 L854.8 516.2 L861.0 513.9 L867.2 511.5 L873.5 509.1 L879.7 506.7 L885.9 504.4 L892.1 502.1 L898.4 499.7 L904.6 497.4 L910.8 495.1 L917.0 492.8 L923.3 490.5 L929.5 488.2 L935.7 485.9 L941.9 483.6 L948.2 481.4 L954.4 479.1 L960.6 476.8 L966.8 474.6 L973.1 472.4 L979.3 470.1 L985.5 467.9 L991.8 465.6 L998.0 463.4 L1004.2 461.2 L1010.4 459.0 L1016.7 456.8 L1022.9 454.5 L1029.1 452.3 L1035.3 450.1 L1041.6 447.9 L1047.8 445.7 L1054.0 443.5 L1060.2 441.3 L1066.5 439.1 L1072.7 436.9 L1078.9 434.7 L1085.1 432.5 L1091.4 430.4 L1097.6 428.2 L1103.8 426.0 L1110.0 423.8 L1116.3 421.6 L1122.5 419.4 L1128.7 417.2 L1134.9 415.1 L1141.2 412.9 L1147.4 410.7 L1153.6 408.5 L1159.9 406.4 L1166.1 404.2 L1172.3 402.0 L1178.5 399.8 L1184.8 397.7 L1191.0 395.5 L1197.2 393.3 L1203.4 391.2 L1209.7 389.0 L1215.9 386.8 L1222.1 384.7 L1228.3 382.5 L1234.6 380.4 L1240.8 378.2 L1247.0 376.1 L1253.2 373.9 L1259.5 371.8 L1265.7 369.6 L1271.9 367.5 L1278.1 365.3 L1284.4 363.2 L1290.6 361.1 L1296.8 358.9 L1303.0 356.8 L1309.3 354.7 L1315.5 352.6 L1321.7 350.5 L1328.0 348.3 L1334.2 346.2 L1340.4 344.1 L1346.6 342.0 L1352.9 339.9 L1359.1 337.8 L1365.3 335.7 L1371.5 333.7 L1377.8 331.6 L1384.0 329.5 L1390.2 327.4 L1396.4 325.4 L1402.7 323.3 L1408.9 321.3 L1415.1 319.2 L1421.3 317.2 L1427.6 315.1 L1433.8 313.1 L1440.0 311.0 L1446.2 309.0 L1452.5 307.0 L1458.7 305.0 L1464.9 303.0 L1471.2 301.0 L1477.4 299.0 L1483.6 297.0 L1489.8 295.0 L1496.1 293.1 L1502.3 291.1 L1508.5 289.1 L1514.7 287.2 L1521.0 285.2 L1527.2 283.3 L1533.4 281.3 L1539.6 279.4 L1545.9 277.5 L1552.1 275.6 L1558.3 273.7 L1564.5 271.8 L1570.8 269.9 L1577.0 268.0 L1583.2 266.1 L1589.4 264.2 L1595.7 262.3 L1601.9 260.4 L1608.1 258.6 L1614.3 256.7 L1620.6 254.9 L1626.8 253.0 L1633.0 251.2 L1639.3 249.3 L1645.5 247.5 L1651.7 245.7 L1657.9 243.8 L1664.2 242.0 L1670.4 240.2 L1676.6 238.4 L1682.8 236.6 L1689.1 234.7 L1695.3 232.9 L1701.5 231.1 L1707.7 229.3 L1714.0 227.5 L1720.2 225.7 L1726.4 223.9 L1732.6 222.1 L1738.9 220.3 L1745.1 218.5 L1751.3 216.8 L1757.5 215.0 L1763.8 213.2 L1770.0 211.4 L1776.2 209.6 L1782.5 207.8 L1788.7 206.1 L1794.9 204.3 L1801.1 202.5 L1807.4 200.8 L1813.6 199.0 L1819.8 197.2 L1826.0 195.5 L1832.3 193.7 L1838.5 192.0 L1844.7 190.2 L1850.9 188.5 L1857.2 186.7 L1863.4 185.0 L1869.6 183.3 L1875.8 181.5 L1882.1 179.8 L1888.3 178.1 L1894.5 176.4 L1900.7 174.7 L1907.0 173.0 L1913.2 171.3 L1919.4 169.6 L1925.7 168.0 L1931.9 166.3 L1938.1 164.7 L1944.3 163.0 L1950.6 161.4 L1956.8 159.8 L1963.0 158.2 L1969.2 156.6 L1975.5 155.0 L1981.7 153.4 L1987.9 151.9 L1994.1 150.3 L2000.4 148.8 L2006.6 147.3 L2012.8 145.8 L2019.0 144.3 L2025.3 142.9 L2031.5 141.4 L2037.7 140.0 L2043.9 138.6 L2050.2 137.2 L2056.4 135.9 L2062.6 134.5 L2068.8 133.2 L2075.1 131.9 L2081.3 130.6" fill="none" stroke="#edb120" stroke-width="4.4" stroke-linejoin="round" stroke-linecap="round"/>
</g>
<g id="ticklabels" class="tk">
<text x="186.5" y="1701.3" text-anchor="end">0</text>
<text x="186.5" y="1519.0" text-anchor="end">0.1</text>
<text x="186.5" y="1336.6" text-anchor="end">0.2</text>
<text x="186.5" y="1154.3" text-anchor="end">0.3</text>
<text x="186.5" y="971.9" text-anchor="end">0.4</text>
<text x="186.5" y="789.6" text-anchor="end">0.5</text>
<text x="186.5" y="607.3" text-anchor="end">0.6</text>
<text x="186.5" y="424.9" text-anchor="end">0.7</text>
<text x="186.5" y="242.6" text-anchor="end">0.8</text>
<text x="186.5" y="60.2" text-anchor="end">0.9</text>
<text x="212.9" y="1763.2" text-anchor="middle">0</text>
<text x="524.4" y="1763.2" text-anchor="middle">50</text>
<text x="835.9" y="1763.2" text-anchor="middle">100</text>
<text x="1147.4" y="1763.2" text-anchor="middle">150</text>
<text x="1458.9" y="1763.2" text-anchor="middle">200</text>
<text x="1770.4" y="1763.2" text-anchor="middle">250</text>
<text x="2081.9" y="1763.2" text-anchor="middle">300</text>
</g>
<g id="axislabels" class="lb">
<text x="1138" y="1834.7" text-anchor="middle">Time step</text>
<text transform="translate(76.3 862) rotate(-90)" text-anchor="middle">Default probability and systemic risk index</text>
</g>
<g id="legend">
<rect x="1204" y="1374" width="864.3" height="226" fill="#ffffff"/>
<path d="M1218.6 1413.8H1402" fill="none" stroke="#0072bd" stroke-width="3.1" stroke-dasharray="12.4 12.06"/>
<path d="M1314 1409.6v8.4" fill="none" stroke="#0072bd" stroke-width="3.4"/>
<text class="lg" fill="#141414" stroke="#141414" stroke-width="0.35" x="1426.6" y="1434.7">Bank default probability</text>
<path d="M1218.6 1487.1H1402" fill="none" stroke="#d95319" stroke-width="3.1" stroke-dasharray="12.4 12.06"/>
<path d="M1314 1482.9v8.4" fill="none" stroke="#d95319" stroke-width="3.4"/>
<text class="lg" fill="#141414" stroke="#141414" stroke-width="0.35" x="1426.6" y="1507.5">Firm default probability</text>
<path d="M1218.6 1559.1H1402" fill="none" stroke="#f0bd45" stroke-width="5.0" stroke-dasharray="12.4 12.06"/>
<path d="M1314 1554.9v8.4" fill="none" stroke="#f0bd45" stroke-width="3.4"/>
<text class="lg" fill="#141414" stroke="#141414" stroke-width="0.35" x="1426.6" y="1580.3">Systemic risk index</text>
</g>
</svg>
</body>
</html>
